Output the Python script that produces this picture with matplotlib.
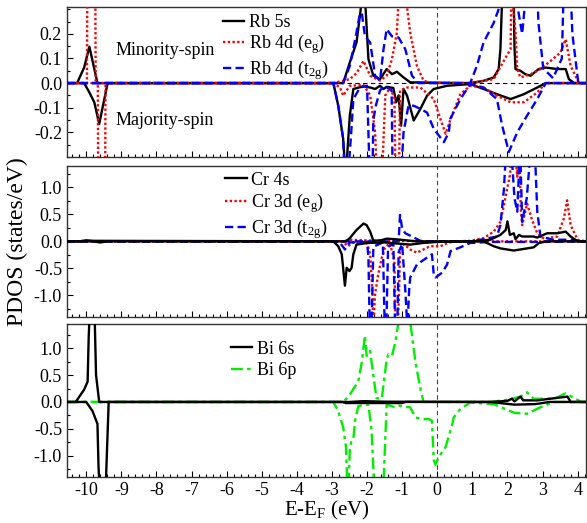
import numpy as np
import matplotlib
matplotlib.use('Agg')
import matplotlib.pyplot as plt
from matplotlib.ticker import MultipleLocator

plt.rcParams['font.family'] = 'Liberation Serif'
plt.rcParams['mathtext.fontset'] = 'custom'
plt.rcParams['mathtext.rm'] = 'Liberation Serif'
plt.rcParams['mathtext.it'] = 'Liberation Serif:italic'
plt.rcParams['axes.unicode_minus'] = False

# (energy, PDOS) points; up = minority (+), dn = majority (-)
rb5s_up = [(-10.55, 0), (-10.26, 0), (-10.06, 0.063), (-9.91, 0.148), (-9.68, 0), (-2.68, 0), (-2.49, 0.084),
           (-2.30, 0.165), (-2.18, 0.30), (-2.12, 0.60), (-2.06, 0.35), (-1.96, 0.097), (-1.82, 0.03),
           (-1.63, 0.016), (-1.44, 0.057), (-1.29, 0.036), (-1.15, 0.046), (-0.96, 0.023), (-0.77, 0.003),
           (0.94, 0), (1.32, 0.009), (1.61, 0.023), (1.75, 0.057), (1.80, 0.138), (1.85, 0.35), (1.92, 0.6),
           (2.00, 0.9), (2.07, 0.7), (2.13, 0.8), (2.20, 0.15), (2.23, 0.057), (2.37, 0.05), (2.51, 0.036),
           (2.66, 0.03), (2.89, 0.057), (3.09, 0.063), (3.42, 0.057), (3.66, 0.057), (3.75, 0.016),
           (3.90, 0), (4.25, 0)]
rb5s_dn = [(-10.55, 0), (-10.06, 0), (-9.91, -0.038), (-9.77, -0.078), (-9.63, -0.166), (-9.39, 0),
           (-2.96, 0), (-2.82, -0.092), (-2.68, -0.227), (-2.62, -0.36), (-2.57, -0.30), (-2.49, -0.132),
           (-2.39, -0.024), (-2.10, -0.013), (-1.91, -0.018), (-1.77, -0.024), (-1.63, -0.011),
           (-1.53, -0.024), (-1.44, -0.015), (-1.25, -0.02), (-1.17, -0.078), (-1.10, -0.05),
           (-1.03, -0.173), (-0.96, -0.024), (-0.86, -0.051), (-0.67, -0.152), (-0.48, -0.105),
           (-0.29, -0.051), (-0.10, -0.024), (0.28, -0.011), (0.94, -0.004), (1.32, -0.024),
           (1.70, -0.045), (2.09, -0.065), (2.47, -0.045), (2.85, -0.018), (3.09, 0), (4.25, 0)]
rb4d_eg_up = [(-10.55, 0), (-9.98, 0), (-9.95, 1.0), (-9.85, 1.5), (-9.76, 1.0), (-9.73, 0), (-2.96, 0),
              (-2.49, 0.016), (-2.30, 0.04), (-2.10, 0.09), (-1.91, 0.03), (-1.63, 0.01), (-1.44, 0.03),
              (-1.29, 0.097), (-1.15, 0.205), (-1.08, 0.4), (-1.00, 0.6), (-0.94, 0.4), (-0.77, 0.205),
              (-0.58, 0.07), (-0.39, 0.01), (-0.2, 0), (0.94, 0), (1.61, 0.016), (1.95, 0.104),
              (2.09, 0.138), (2.13, 0.6), (2.17, 0.3), (2.23, 0.205), (2.28, 0.057), (2.37, 0.023),
              (2.66, 0.036), (2.94, 0.057), (3.23, 0.09), (3.51, 0.124), (3.66, 0.178), (3.80, 0.07),
              (4.04, 0), (4.25, 0)]
rb4d_eg_dn = [(-10.55, 0), (-9.67, 0), (-9.64, -1.0), (-9.56, -1.5), (-9.48, -1.0), (-9.45, 0), (-2.96, 0),
              (-2.77, -0.018), (-2.68, -0.051), (-2.49, -0.011), (-2.10, -0.008), (-1.91, -0.05),
              (-1.77, -0.2), (-1.70, -0.45), (-1.62, -0.6), (-1.55, -0.3), (-1.48, -0.05), (-1.35, -0.02),
              (-1.22, -0.06), (-1.18, -0.5), (-1.14, -0.7), (-1.10, -0.5), (-1.06, -0.03), (-0.86, -0.018),
              (-0.48, -0.018), (-0.10, -0.065), (0.09, -0.146), (0.24, -0.206), (0.38, -0.146),
              (0.66, -0.045), (0.94, -0.011), (1.32, -0.018), (1.70, -0.051), (2.09, -0.078),
              (2.47, -0.078), (2.85, -0.038), (3.09, 0), (4.25, 0)]
rb4d_t2g_up = [(-10.55, 0), (-2.68, 0), (-2.49, 0.07), (-2.30, 0.205), (-2.22, 0.27), (-2.15, 0.286),
               (-2.06, 0.19), (-1.91, 0.165), (-1.77, 0.03), (-1.63, 0.01), (-1.53, 0.138), (-1.44, 0.219),
               (-1.29, 0.19), (-1.10, 0.185), (-0.91, 0.138), (-0.72, 0.03), (-0.53, 0), (0.94, 0),
               (1.13, 0.07), (1.32, 0.165), (1.61, 0.245), (1.80, 0.32), (1.95, 0.8), (2.05, 1.2),
               (2.15, 0.9), (2.30, 0.3), (2.42, 0.2), (2.55, 0.4), (2.75, 0.9), (2.88, 0.25), (3.02, 0.06),
               (3.30, 0.02), (3.55, 0.1), (3.68, 0.8), (3.85, 0.2), (4.02, 0), (4.25, 0)]
rb4d_t2g_dn = [(-10.55, 0), (-2.96, 0), (-2.82, -0.092), (-2.68, -0.227), (-2.62, -0.45), (-2.55, -0.4),
               (-2.45, -0.2), (-2.39, -0.065), (-2.20, -0.018), (-2.00, -0.011), (-1.94, -0.3),
               (-1.90, -0.6), (-1.86, -0.5), (-1.82, -0.15), (-1.75, -0.092), (-1.63, -0.03),
               (-1.50, -0.011), (-1.30, -0.03), (-1.26, -0.5), (-1.20, -0.7), (-1.12, -0.5),
               (-1.02, -0.35), (-0.96, -0.2), (-0.82, -0.092), (-0.67, -0.092), (-0.48, -0.105),
               (-0.29, -0.12), (-0.10, -0.186), (0.19, -0.24), (0.33, -0.2), (0.37, -0.146),
               (0.66, -0.065), (0.94, -0.004), (1.32, -0.018), (1.70, -0.065), (1.85, -0.173),
               (2.04, -0.28), (2.28, -0.2), (2.56, -0.132), (2.85, -0.065), (3.09, 0), (4.25, 0)]

cr4s_up = [(-10.55, 0), (-10.2, 0), (-10.0, 0.02), (-9.8, 0.01), (-2.6, 0), (-2.49, 0.06), (-2.30, 0.21),
           (-2.15, 0.30), (-2.10, 0.33), (-2.01, 0.30), (-1.91, 0.18), (-1.82, 0.01), (-1.6, 0.02),
           (-1.44, 0.05), (-1.2, 0.04), (-0.9, 0.02), (-0.6, 0), (1.0, 0), (1.51, 0.03), (1.80, 0.12),
           (1.95, 0.21), (2.0, 0.37), (2.07, 0.12), (2.18, 0.15), (2.23, 0.04), (2.33, 0.12),
           (2.42, 0.09), (2.75, 0.09), (2.85, 0.07), (3.13, 0.15), (3.42, 0.15), (3.66, 0.18),
           (3.80, 0.09), (4.0, 0), (4.25, 0)]
cr4s_dn = [(-10.55, 0), (-9.8, 0), (-9.6, -0.02), (-9.4, 0), (-2.96, 0), (-2.82, -0.09), (-2.72, -0.24),
           (-2.63, -0.82), (-2.58, -0.49), (-2.50, -0.55), (-2.44, -0.49), (-2.39, -0.24), (-2.30, -0.06),
           (-2.0, -0.03), (-1.5, -0.02), (-0.77, -0.06), (-0.4, -0.03), (0.0, -0.01), (1.32, 0),
           (1.61, -0.09), (1.80, -0.13), (2.18, -0.17), (2.56, -0.13), (2.75, -0.11), (2.90, -0.03),
           (3.10, 0), (4.25, 0)]
cr3d_eg_up = [(-10.55, 0), (-2.7, 0), (-2.5, 0.03), (-2.1, 0.02), (-1.5, 0.01), (0.5, 0), (0.94, 0.01),
              (1.32, 0.06), (1.61, 0.18), (1.80, 0.36), (1.90, 0.67), (1.99, 0.97), (2.07, 1.22),
              (2.12, 1.6), (2.20, 1.8), (2.28, 1.2), (2.33, 1.9), (2.38, 0.6), (2.42, 0.3), (2.56, 0.7),
              (2.70, 0.4), (2.85, 0.15), (3.04, 0.05), (3.42, 0.09), (3.61, 0.43), (3.70, 0.76),
              (3.80, 0.3), (4.0, 0.03), (4.25, 0)]
cr3d_eg_dn = [(-10.55, 0), (-2.7, 0), (-2.54, -0.09), (-2.4, -0.02), (-2.0, -0.03), (-1.91, -0.24),
              (-1.85, -0.9), (-1.82, -1.6), (-1.77, -0.97), (-1.68, -0.61), (-1.58, -0.3), (-1.49, -0.12),
              (-1.35, -0.03), (-1.22, -0.36), (-1.19, -1.6), (-1.13, -1.7), (-1.09, -1.0), (-1.06, -0.15),
              (-0.95, -0.05), (-0.77, -0.15), (-0.58, -0.21), (-0.39, -0.15), (-0.2, -0.09), (0.09, -0.09),
              (0.33, -0.02), (0.6, 0), (4.25, 0)]
cr3d_t2g_up = [(-10.55, 0), (-1.1, 0), (-1.06, 0.49), (-1.0, 0.24), (-0.91, 0.15), (-0.72, 0.09),
               (-0.48, 0.01), (-0.3, 0), (1.0, 0), (1.70, 0.09), (1.80, 0.3), (1.90, 0.97), (1.97, 1.8),
               (2.05, 2.2), (2.12, 1.6), (2.20, 0.8), (2.28, 0.55), (2.36, 1.8), (2.42, 0.36), (2.55, 0.8),
               (2.65, 1.6), (2.78, 1.7), (2.85, 0.55), (2.94, 0.09), (3.3, 0.03), (3.9, 0.03), (4.1, 0),
               (4.25, 0)]
cr3d_t2g_dn = [(-10.55, 0), (-2.8, 0), (-2.63, -0.15), (-2.5, -0.02), (-2.0, -0.01), (-1.96, -0.3),
               (-1.92, -1.7), (-1.87, -1.6), (-1.82, -0.1), (-1.55, -0.02), (-1.50, -1.5), (-1.45, -1.6),
               (-1.40, -0.1), (-1.25, -0.05), (-1.20, -1.6), (-1.14, -1.7), (-1.10, -0.2), (-1.0, -0.05),
               (-0.91, -0.9), (-0.85, -1.6), (-0.80, -0.9), (-0.77, -0.67), (-0.58, -0.43), (-0.29, -0.30),
               (-0.15, -0.24), (-0.10, -0.61), (-0.05, -0.67), (0.14, -0.58), (0.28, -0.43), (0.38, -0.18),
               (0.66, -0.11), (0.94, -0.03), (1.5, -0.01), (3.0, -0.01), (4.25, 0)]

bi6s_up = [(-10.55, 0), (-10.3, 0), (-10.06, 0.23), (-9.96, 0.38), (-9.93, 1.2), (-9.85, 2.5), (-9.76, 1.6),
           (-9.72, 0.5), (-9.63, 0), (-2.5, 0), (-2.1, 0.015), (-1.5, 0.005), (1.5, 0), (2.0, 0.02),
           (2.13, 0.06), (2.20, 0.01), (2.37, 0.1), (2.45, 0.03), (2.85, 0.03), (3.71, 0.1), (3.8, 0),
           (4.25, 0)]
bi6s_dn = [(-10.55, 0), (-10.0, 0), (-9.82, -0.17), (-9.68, -0.41), (-9.65, -1.2), (-9.55, -2.5),
           (-9.44, -1.5), (-9.36, 0), (-2.7, 0), (-2.6, -0.02), (-1.0, -0.02), (-0.9, 0), (1.5, 0),
           (2.2, -0.05), (2.8, -0.04), (3.2, 0), (4.25, 0)]
bi6p_up = [(-10.55, 0), (-2.68, 0), (-2.53, 0.1), (-2.34, 0.29), (-2.25, 0.38), (-2.15, 0.74), (-2.06, 1.24),
           (-2.01, 0.86), (-1.91, 0.95), (-1.87, 0.74), (-1.73, 0.07), (-1.58, 0.06), (-1.44, 0.8),
           (-1.39, 0.89), (-1.29, 0.86), (-1.20, 1.1), (-1.10, 1.5), (-0.95, 1.8), (-0.77, 1.5),
           (-0.62, 0.74), (-0.48, 0.25), (-0.39, 0), (1.5, 0), (1.99, 0.04), (2.37, 0.1), (2.56, 0.18),
           (2.75, 0.06), (3.33, 0.06), (3.66, 0.16), (4.1, 0), (4.25, 0)]
bi6p_dn = [(-10.55, 0), (-2.96, 0), (-2.82, -0.17), (-2.68, -0.47), (-2.60, -0.84), (-2.56, -1.6),
           (-2.52, -1.5), (-2.49, -0.84), (-2.44, -0.72), (-2.39, -0.69), (-2.34, -0.35), (-2.25, -0.08),
           (-2.06, -0.05), (-1.96, -0.05), (-1.87, -0.54), (-1.80, -1.5), (-1.65, -1.9), (-1.53, -1.5),
           (-1.44, -0.05), (-1.20, -0.1), (-1.10, -0.07), (-0.77, -0.1), (-0.62, -0.29), (-0.43, -0.32),
           (-0.24, -0.32), (-0.15, -0.35), (-0.10, -1.08), (-0.05, -1.17), (0.05, -1.02), (0.24, -0.84),
           (0.43, -0.41), (0.47, -0.29), (0.66, -0.13), (0.94, -0.01), (1.61, -0.04), (2.18, -0.2),
           (2.56, -0.22), (2.94, -0.1), (3.33, 0), (4.25, 0)]

BLK = dict(color='black', ls='-', lw=1.7)
RED = dict(color='#ff0000', ls=(0, (1, 1)), lw=1.7)
BLU = dict(color='#0000ff', ls=(0, (3.5, 1.8)), lw=1.7)
GRN = dict(color='#00ee00', ls=(0, (5, 1.8, 1.5, 1.8)), lw=1.7)

FS = 13
LEG = dict(loc='upper left', frameon=False, fontsize=FS, handlelength=1.2,
           handletextpad=0.25, borderaxespad=0)


def draw(ax, up, dn, style, label, z=2):
    e, v = np.array(up).T
    ax.plot(e, v, label=label, zorder=z, **style)
    e, v = np.array(dn).T
    ax.plot(e, v, zorder=z, **style)


def style_axes(ax, ylim, major, minor):
    ax.set_xlim(-10.55, 4.25)
    ax.set_ylim(ylim)
    ax.axvline(0, color='#444444', ls=(0, (4, 3)), lw=0.8, zorder=1)
    ax.xaxis.set_major_locator(MultipleLocator(1))
    ax.xaxis.set_minor_locator(MultipleLocator(0.2))
    ax.yaxis.set_major_locator(MultipleLocator(major))
    ax.yaxis.set_minor_locator(MultipleLocator(minor))
    ax.tick_params(which='both', direction='in', top=False, right=False, labelsize=FS)
    ax.tick_params(which='major', length=4.5, width=0.8)
    ax.tick_params(which='minor', length=2.5, width=0.8)
    for s in ax.spines.values():
        s.set_linewidth(1.0)
        s.set_color('#333333')


fig = plt.figure(figsize=(5.87, 5.23), dpi=100)
L, R = 0.114, 0.999
ax1 = fig.add_axes([L, 0.700, R - L, 0.287])
ax2 = fig.add_axes([L, 0.394, R - L, 0.289])
ax3 = fig.add_axes([L, 0.088, R - L, 0.292])

# Rb
ax1.axhline(0, color='black', ls=(0, (4, 3)), lw=0.8, zorder=1)
draw(ax1, rb5s_up, rb5s_dn, BLK, 'Rb 5s', 2)
draw(ax1, rb4d_eg_up, rb4d_eg_dn, RED, 'Rb 4d (e$_\\mathrm{g}$)', 3)
draw(ax1, rb4d_t2g_up, rb4d_t2g_dn, BLU, 'Rb 4d (t$_\\mathrm{2g}$)', 4)
style_axes(ax1, (-0.3, 0.31), 0.1, 0.05)
ax1.set_yticks([-0.2, -0.1, 0.0, 0.1, 0.2])
ax1.set_yticklabels(['-0.2', '-0.1', '0.0', '0.1', '0.2'])
ax1.tick_params(labelbottom=False)
ax1.text(0.094, 0.71, 'Minority-spin', transform=ax1.transAxes, fontsize=FS, va='center')
ax1.text(0.094, 0.245, 'Majority-spin', transform=ax1.transAxes, fontsize=FS, va='center')
ax1.legend(bbox_to_anchor=(0.286, 1.0), labelspacing=0.08, **LEG)

# Cr
draw(ax2, cr3d_eg_up, cr3d_eg_dn, RED, 'Cr 3d (e$_\\mathrm{g}$)', 2)
draw(ax2, cr3d_t2g_up, cr3d_t2g_dn, BLU, 'Cr 3d (t$_\\mathrm{2g}$)', 3)
draw(ax2, cr4s_up, cr4s_dn, BLK, 'Cr 4s', 4)
style_axes(ax2, (-1.4, 1.4), 0.5, 0.25)
ax2.set_yticks([-1.0, -0.5, 0.0, 0.5, 1.0])
ax2.set_yticklabels(['-1.0', '-0.5', '0.0', '0.5', '1.0'])
ax2.tick_params(labelbottom=False)
h, l = ax2.get_legend_handles_labels()
ax2.legend([h[2], h[0], h[1]], [l[2], l[0], l[1]], bbox_to_anchor=(0.291, 1.01),
           labelspacing=0.12, **LEG)
ax2.set_ylabel('PDOS (states/eV)', fontsize=17)
ax2.yaxis.set_label_coords(-0.074, 0.5)

# Bi
draw(ax3, bi6p_up, bi6p_dn, GRN, 'Bi 6p', 2)
draw(ax3, bi6s_up, bi6s_dn, BLK, 'Bi 6s', 3)
style_axes(ax3, (-1.4, 1.45), 0.5, 0.25)
ax3.set_yticks([-1.0, -0.5, 0.0, 0.5, 1.0])
ax3.set_yticklabels(['-1.0', '-0.5', '0.0', '0.5', '1.0'])
h, l = ax3.get_legend_handles_labels()
ax3.legend([h[1], h[0]], [l[1], l[0]], bbox_to_anchor=(0.301, 0.94), labelspacing=0.25, **LEG)
ax3.set_xlabel('E-E$_\\mathrm{F}$ (eV)', fontsize=15, labelpad=0)

fig.savefig('out.png', dpi=100)
